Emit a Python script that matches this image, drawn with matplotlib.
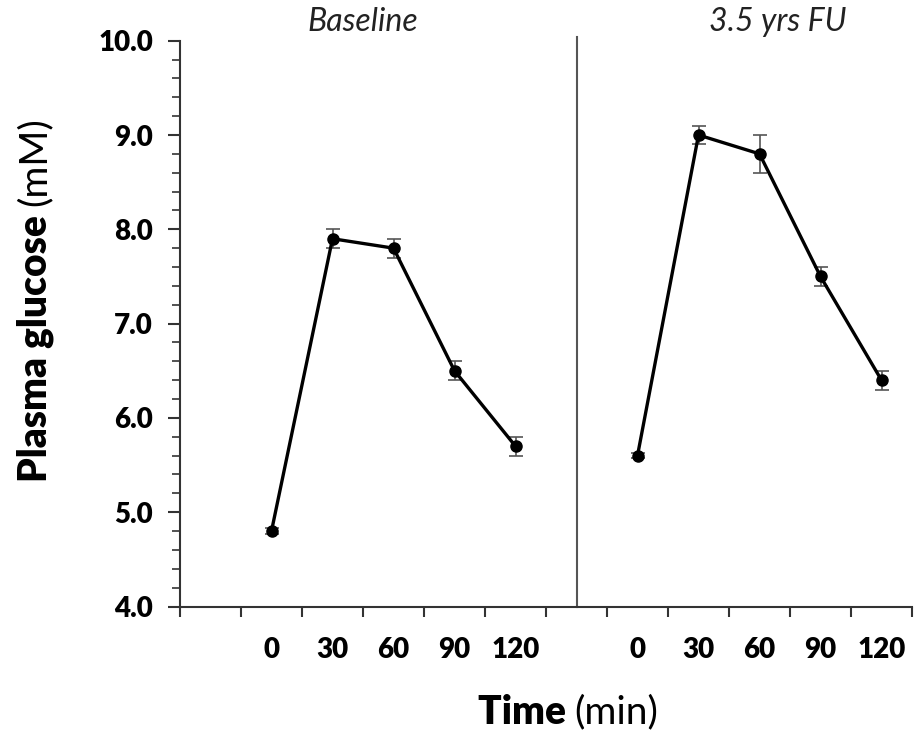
import matplotlib
matplotlib.use("Agg")
import matplotlib.pyplot as plt
import numpy as np
from matplotlib.offsetbox import TextArea, HPacker, VPacker, AnchoredOffsetbox

plt.rcParams['font.family'] = ['Lato', 'DejaVu Sans']

categories = ["", "0", "30", "60", "90", "120", "", "0", "30", "60", "90", "120"]
baseline_idx = [1, 2, 3, 4, 5]
baseline_vals = [4.8, 7.9, 7.8, 6.5, 5.7]
baseline_err = [0.03, 0.1, 0.1, 0.1, 0.1]
fu_idx = [7, 8, 9, 10, 11]
fu_vals = [5.6, 9.0, 8.8, 7.5, 6.4]
fu_err = [0.03, 0.1, 0.2, 0.1, 0.1]
panel_titles = ["Baseline", "3.5 yrs FU"]
yticks = [4.0, 5.0, 6.0, 7.0, 8.0, 9.0, 10.0]

W, H = 916, 739
fig = plt.figure(figsize=(W / 100, H / 100), dpi=100)
ax = fig.add_axes([180 / W, 1 - 606.5 / H, (912 - 180) / W, (606.5 - 40.7) / H])

for idx, vals, err in [(baseline_idx, baseline_vals, baseline_err), (fu_idx, fu_vals, fu_err)]:
    ax.errorbar(idx, vals, yerr=err, fmt='none', ecolor='#555555', elinewidth=1.2,
                capsize=5, capthick=1.2, zorder=2)
    ax.plot(idx, vals, color='black', lw=2.4, marker='o', ms=8, zorder=3)

ax.set_xlim(-0.5, len(categories) - 0.5)
ax.set_ylim(4.0, 10.0)

# divider between the two panels
ax.plot([6, 6], [4.0, 10.04], color='#555555', lw=1.5, clip_on=False, zorder=1)

for s in ['top', 'right']:
    ax.spines[s].set_visible(False)
for s in ['left', 'bottom']:
    ax.spines[s].set_linewidth(1.5)
    ax.spines[s].set_color('#333333')

ax.set_yticks(yticks)
ax.set_yticks(np.arange(4.0, 10.01, 0.2), minor=True)
ax.set_yticklabels([f"{v:.1f}" for v in yticks], fontsize=20, fontweight='heavy')
ax.tick_params(axis='y', which='major', length=8.5, width=1.5, color='#333333', pad=11)
ax.tick_params(axis='y', which='minor', length=5.5, width=1.2, color='#333333')

ax.set_xticks(np.arange(-0.5, len(categories), 1.0))
ax.set_xticklabels([])
ax.set_xticks(np.arange(len(categories)), minor=True)
ax.set_xticklabels(categories, minor=True, fontsize=20, fontweight='heavy')
ax.tick_params(axis='x', which='major', length=7, width=1.5, color='#333333')
ax.tick_params(axis='x', which='minor', length=0, pad=22)

# X label: bold + regular
t1 = TextArea("Time ", textprops=dict(fontsize=28, fontweight='heavy'))
t2 = TextArea("(min)", textprops=dict(fontsize=28, fontweight='normal'))
box = HPacker(children=[t1, t2], align="baseline", pad=0, sep=0)
ab = AnchoredOffsetbox(loc='center', child=box, frameon=False,
                       bbox_to_anchor=(568 / W, 1 - 712 / H), bbox_transform=fig.transFigure,
                       borderpad=0, pad=0)
fig.add_artist(ab)

# Y label (rotated): bold + regular
t3 = TextArea("(mM)", textprops=dict(fontsize=28, fontweight='normal', rotation=90))
t4 = TextArea("Plasma glucose ", textprops=dict(fontsize=28, fontweight='heavy', rotation=90))
vbox = VPacker(children=[t3, t4], align="center", pad=0, sep=0)
ab2 = AnchoredOffsetbox(loc='center', child=vbox, frameon=False,
                        bbox_to_anchor=(35 / W, 1 - 300 / H), bbox_transform=fig.transFigure,
                        borderpad=0, pad=0)
fig.add_artist(ab2)

fig.text(363 / W, 1 - 22 / H, panel_titles[0], fontsize=23, style='italic',
         ha='center', va='center', color='#222222')
fig.text(778 / W, 1 - 22 / H, panel_titles[1], fontsize=23, style='italic',
         ha='center', va='center', color='#222222')

fig.savefig("out.png", dpi=100)
